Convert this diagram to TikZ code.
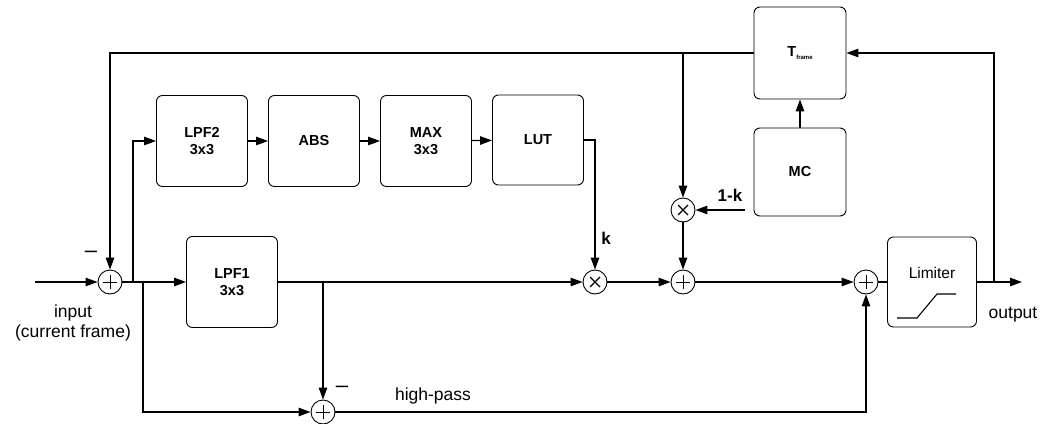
\documentclass[tikz,border=0pt]{standalone}
\usepackage{fontspec}
\setmainfont{Liberation Sans}
\usetikzlibrary{arrows.meta,calc}
\begin{document}
\begin{tikzpicture}[x=1pt,y=-1pt,
  blk/.style={draw,line width=0.9pt,rounded corners=6pt,minimum width=91pt,minimum height=91pt,inner sep=0pt,align=center,font=\fontsize{14.5}{16.5}\selectfont\bfseries},
  sumnode/.style={draw,circle,line width=0.9pt,minimum size=24pt,inner sep=0pt,
    path picture={\draw[line width=0.9pt] ($(path picture bounding box.center)+(-7pt,0)$) -- ($(path picture bounding box.center)+(7pt,0)$)
      ($(path picture bounding box.center)+(0,-7pt)$) -- ($(path picture bounding box.center)+(0,7pt)$);}},
  mulnode/.style={draw,circle,line width=0.9pt,minimum size=24pt,inner sep=0pt,
    path picture={\draw[line width=1.1pt] ($(path picture bounding box.center)+(-5pt,-5pt)$) -- ($(path picture bounding box.center)+(5pt,5pt)$)
      ($(path picture bounding box.center)+(-5pt,5pt)$) -- ($(path picture bounding box.center)+(5pt,-5pt)$);}},
  wire/.style={line width=1.3pt},
  arr/.style={wire,-{Triangle[length=12pt,width=8.5pt]}},
  lbl/.style={font=\fontsize{17.5}{20}\selectfont,inner sep=0pt},
  blbl/.style={font=\fontsize{17}{19}\selectfont\bfseries,inner sep=0pt}
]
\useasboundingbox (0,0) rectangle (1044,423);

% nodes
\node[sumnode] (sumA) at (110,282) {};
\node[blk] (lpf1) at (232,282) {LPF1\\3x3};
\node[blk] (lpf2) at (202,141) {LPF2\\3x3};
\node[blk] (abs) at (314,141) {ABS};
\node[blk] (max) at (426,141) {MAX\\3x3};
\node[blk, minimum height=90pt] (lut) at (538,140) {LUT};
\node[mulnode] (mul1) at (595,282) {};
\node[sumnode] (sum2) at (683,282) {};
\node[mulnode] (mul2) at (683,210) {};
\node[blk, minimum width=92pt, minimum height=92pt] (tframe) at (800,53) {T\raisebox{-3pt}{\fontsize{6}{7}\selectfont frame}};
\node[blk, minimum width=92pt, minimum height=88pt] (mc) at (800,172) {MC};
\node[sumnode] (sum4) at (866,282) {};
\node[blk, minimum width=89pt, minimum height=90pt] (lim) at (932,282) {};
\node[sumnode] (sum3) at (323,412) {};

% coordinates
\coordinate (in) at (35,282);
\coordinate (b1) at (133,282);
\coordinate (b2) at (143,282);
\coordinate (b3) at (323,282);
\coordinate (t683) at (683,53);
\coordinate (kin) at (745,210);
\coordinate (ob) at (994,282);
\coordinate (out) at (1022,282);

% connectors
\draw[arr] (in) -- (sumA);
\draw[arr] (sumA) -- (lpf1);
\draw[arr] (b1) |- (lpf2.west);
\draw[arr] (b2) |- (sum3);
\draw[arr] (lpf2) -- (abs);
\draw[arr] (abs) -- (max);
\draw[arr] (max) -- (lut);
\draw[arr] (lut.east) -| (mul1);
\draw[arr] (lpf1) -- (mul1);
\draw[arr] (mul1) -- (sum2);
\draw[arr] (mul2) -- (sum2);
\draw[arr] (kin) -- (mul2);
\draw[arr] (tframe.west) -| (sumA);
\draw[arr] (t683) -- (mul2);
\draw[arr] (mc) -- (tframe);
\draw[arr] (sum2) -- (sum4);
\draw[wire] (sum4) -- (lim);
\draw[arr] (lim.east) -- (out);
\draw[arr] (ob) |- (tframe.east);
\draw[arr] (b3) -- (sum3);
\draw[arr] (sum3) -| (sum4);

% limiter curve
\draw[line width=1.1pt] ($(lim.center)+(-35,36)$) -- ($(lim.center)+(-15,36)$) -- ($(lim.center)+(5,12)$) -- ($(lim.center)+(24,12)$);
\node[font=\fontsize{15.5}{17}\selectfont,inner sep=0pt] (limtxt) at (932,273) {Limiter};

% labels
\node[lbl,align=center] (intxt) at (73,323) {input\\(current frame)};
\node[lbl] (outtxt) at (1013,315) {output};
\node[lbl] (hptxt) at (433,396) {high-pass};
\node[blbl] (ktxt) at (606,238) {k};
\node[blbl] (omk) at (730,195) {1-k};
\node[font=\fontsize{22}{24}\selectfont,inner sep=0pt] (m1) at (91,254) {–};
\node[font=\fontsize{22}{24}\selectfont,inner sep=0pt] (m2) at (342,389) {–};
\end{tikzpicture}
\end{document}
